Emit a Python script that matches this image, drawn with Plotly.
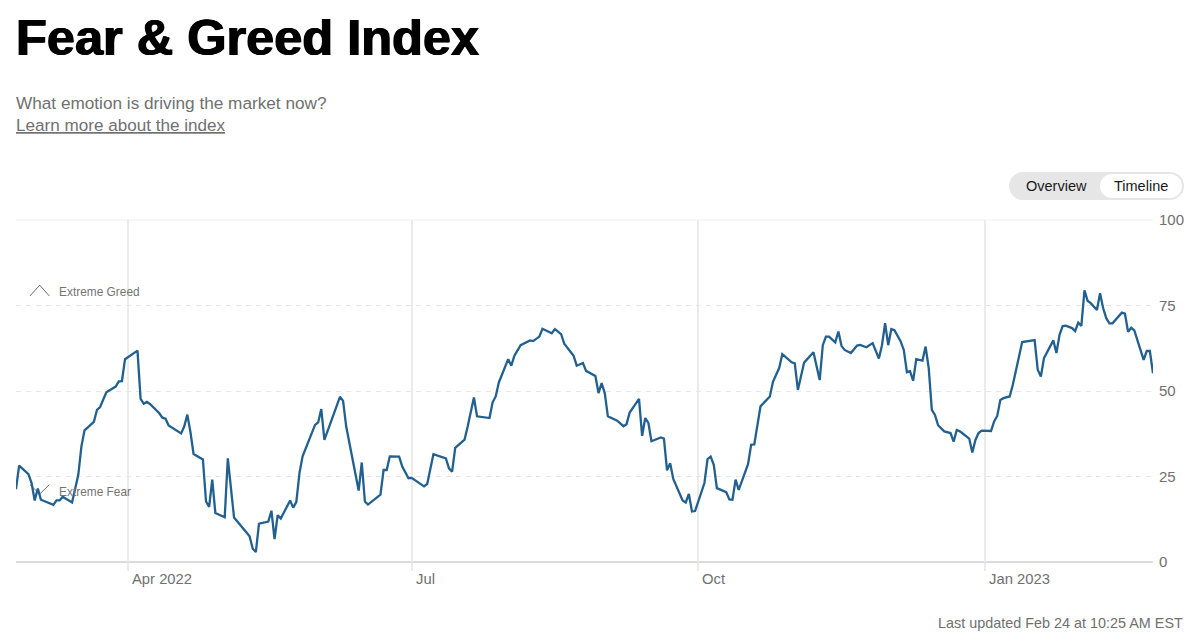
import pandas as pd
import plotly.graph_objects as go

# days since the first reading (2022-02-24)
day_offsets = [
    0, 1, 4, 5, 6, 7, 8, 12, 13, 14, 15, 18, 20, 21, 22, 25, 26, 27, 29, 32,
    33, 34, 35, 39, 40, 41, 42, 43, 46, 47, 48, 49, 53, 54, 55, 56, 57, 60, 61, 62,
    63, 64, 67, 68, 70, 75, 76, 77, 78, 81, 82, 83, 84, 85, 88, 89, 90, 91, 92, 96,
    97, 98, 99, 104, 105, 106, 110, 111, 112, 113, 117, 118, 119, 120, 123, 124, 126, 127, 131, 132,
    134, 138, 139, 140, 141, 144, 145, 147, 148, 152, 153, 154, 155, 158, 159, 160, 162, 165, 166, 168,
    169, 172, 173, 175, 176, 179, 180, 182, 183, 186, 187, 188, 189, 190, 193, 195, 196, 197, 200, 201,
    202, 203, 204, 207, 208, 209, 210, 211, 214, 215, 216, 217, 218, 221, 222, 223, 224, 225, 228, 229,
    230, 231, 232, 235, 236, 237, 239, 242, 243, 244, 245, 246, 249, 250, 251, 253, 256, 258, 259, 260,
    261, 263, 264, 265, 266, 268, 270, 271, 273, 275, 277, 278, 279, 280, 281, 282, 284, 285, 286, 287,
    288, 289, 291, 292, 293, 294, 295, 296, 298, 300, 301, 302, 303, 306, 307, 308, 309, 310, 313, 314,
    315, 316, 317, 319, 320, 323, 327, 328, 329, 330, 333, 334, 335, 336, 337, 339, 340, 341, 342, 343,
    344, 345, 347, 348, 349, 350, 351, 352, 355, 356, 357, 358, 359, 362, 363, 364, 365,
]
index_values = [
    21.3, 28.2, 25.7, 23.1, 18.0, 21.5, 18.2, 16.7, 18.0, 18.0, 19.1, 17.4, 25.5, 33.8, 38.5, 41.0, 44.5, 45.3, 49.6, 51.3,
    52.8, 52.9, 59.3, 61.8, 47.7, 46.3, 46.8, 46.2, 43.5, 42.2, 41.9, 39.9, 37.6, 39.6, 43.1, 38.0, 31.6, 30.0, 17.7, 16.1,
    24.1, 14.3, 13.1, 30.3, 13.0, 7.5, 3.9, 2.9, 11.2, 11.8, 15.0, 6.7, 13.7, 12.7, 18.0, 15.9, 17.6, 26.0, 30.9, 40.1,
    40.8, 44.7, 35.7, 48.3, 47.1, 39.6, 20.9, 29.1, 17.7, 16.8, 19.7, 26.9, 26.9, 30.9, 30.8, 27.9, 24.5, 24.6, 22.1, 22.8,
    31.5, 30.3, 27.4, 26.4, 33.4, 35.8, 39.6, 48.1, 42.6, 42.1, 46.7, 48.4, 52.5, 59.3, 57.4, 60.3, 63.4, 64.8, 64.6, 65.9,
    68.2, 66.9, 68.1, 66.6, 63.8, 60.3, 57.4, 58.2, 55.9, 54.4, 49.4, 52.3, 49.4, 42.6, 41.3, 39.7, 40.3, 43.7, 47.7, 36.9,
    42.1, 40.7, 35.3, 36.4, 36.1, 26.8, 28.9, 24.3, 18.0, 17.4, 19.9, 14.8, 14.9, 23.1, 30.1, 30.8, 28.4, 21.6, 20.4, 18.3,
    18.2, 24.1, 21.1, 28.6, 34.3, 34.4, 45.5, 48.4, 52.7, 54.9, 56.7, 60.8, 58.4, 58.1, 50.3, 58.3, 61.3, 53.2, 63.4, 65.9,
    65.9, 64.2, 67.4, 63.2, 62.0, 61.1, 63.3, 63.5, 62.8, 64.0, 59.5, 63.4, 69.8, 63.4, 68.1, 67.8, 64.5, 62.0, 55.5, 55.8,
    53.0, 59.3, 58.9, 63.0, 56.7, 44.5, 43.0, 40.0, 38.2, 37.7, 35.2, 38.6, 38.2, 36.1, 32.0, 35.7, 37.7, 38.4, 38.3, 41.1,
    42.7, 47.4, 47.9, 48.4, 51.8, 64.3, 64.9, 56.2, 54.2, 59.6, 64.8, 61.1, 66.4, 69.0, 69.1, 68.4, 67.5, 70.0, 69.0, 79.4,
    76.4, 75.7, 73.7, 78.6, 74.2, 71.3, 69.8, 69.8, 72.9, 72.6, 67.3, 68.5, 67.7, 59.1, 61.7, 61.7, 55.2,
]
dates = pd.Timestamp("2022-02-24") + pd.to_timedelta(day_offsets, unit="D")

month_ticks = ["2022-04-01", "2022-07-01", "2022-10-01", "2023-01-01"]
month_labels = ["Apr 2022", "Jul", "Oct", "Jan 2023"]
y_ticks = [0, 25, 50, 75, 100]

WIDTH, HEIGHT = 1200, 643
LEFT, RIGHT, TOP, BOTTOM = 16, 1153, 220, 562.5
GREY = "#707070"
GRID = "#ebebeb"
FONT = "Liberation Sans"


def px(x):
    return (x - LEFT) / (RIGHT - LEFT)


def py(y):
    return (BOTTOM - y) / (BOTTOM - TOP)


def pill(x0, x1, y0, y1):
    r = (y1 - y0) / 2
    k = r * 0.45
    return (
        f"M {px(x0 + r)} {py(y0)} L {px(x1 - r)} {py(y0)} "
        f"C {px(x1 - k)} {py(y0)} {px(x1)} {py(y0 + k)} {px(x1)} {py(y0 + r)} "
        f"C {px(x1)} {py(y1 - k)} {px(x1 - k)} {py(y1)} {px(x1 - r)} {py(y1)} "
        f"L {px(x0 + r)} {py(y1)} "
        f"C {px(x0 + k)} {py(y1)} {px(x0)} {py(y1 - k)} {px(x0)} {py(y0 + r)} "
        f"C {px(x0)} {py(y0 + k)} {px(x0 + k)} {py(y0)} {px(x0 + r)} {py(y0)} Z"
    )


def chevron(points):
    cmds = []
    for i, (x, y) in enumerate(points):
        cmds.append(("M" if i == 0 else "L") + f" {px(x)} {py(y)}")
    return " ".join(cmds)


def label(text, x, y, size, color=GREY, anchor="left", **font):
    fig.add_annotation(
        text=text, x=px(x), y=py(y), xref="paper", yref="paper",
        xanchor=anchor, yanchor="middle", showarrow=False,
        font=dict(family=FONT, size=size, color=color, **font),
    )


fig = go.Figure(go.Scatter(
    x=dates, y=index_values, mode="lines",
    line=dict(color="#22608f", width=2.3),
    hoverinfo="skip",
))

fig.update_layout(
    width=WIDTH, height=HEIGHT,
    margin=dict(l=LEFT, r=WIDTH - RIGHT, t=TOP, b=HEIGHT - BOTTOM, pad=0),
    paper_bgcolor="white", plot_bgcolor="white",
    showlegend=False,
)
fig.update_xaxes(
    range=["2022-02-24", "2023-02-24"],
    tickvals=month_ticks, showticklabels=False,
    showgrid=True, gridcolor=GRID, gridwidth=1.5,
    ticks="outside", ticklen=8, tickcolor=GRID, tickwidth=1.5,
    showline=False, zeroline=False,
)
fig.update_yaxes(
    range=[0, 100], side="right",
    tickvals=y_ticks,
    showgrid=True, gridcolor="#e6e6e6", griddash="5px,5px", gridwidth=1,
    ticks="outside", ticklen=2, tickcolor="rgba(0,0,0,0)",
    tickfont=dict(family=FONT, size=15, color=GREY),
    zeroline=False, showline=False,
)

# solid rules at the top and bottom of the scale
fig.add_shape(type="line", xref="paper", yref="paper", x0=0, x1=1, y0=1, y1=1,
              line=dict(color="#f0f0f0", width=1), layer="below")
fig.add_shape(type="line", xref="paper", yref="paper", x0=0, x1=1, y0=0, y1=0,
              line=dict(color="#dcdcdc", width=2), layer="below")

# toggle
fig.add_shape(type="path", xref="paper", yref="paper", path=pill(1009, 1184, 172, 200),
              fillcolor="#e6e6e6", line_width=0)
fig.add_shape(type="path", xref="paper", yref="paper", path=pill(1100, 1182, 174, 198),
              fillcolor="white", line_width=0)

# greed / fear markers
for pts in ([(30, 296), (39.7, 285.3), (49.3, 296)], [(30, 485), (39.7, 494.5), (49.3, 485)]):
    fig.add_shape(type="path", xref="paper", yref="paper", path=chevron(pts),
                  line=dict(color="#6b6b6b", width=1), layer="below")

label("Fear &amp; Greed Index", 14, 37, 50.5, color="#000000", weight="bold",
      shadow="0.7px 0 0 #000, -0.7px 0 0 #000")
label("What emotion is driving the market now?", 14, 103, 17.2)
label("Learn more about the index", 14, 125, 17.1, lineposition="under")
label("Overview", 1056, 186, 14.5, color="#1a1a1a", anchor="center")
label("Timeline", 1141, 186, 14.5, color="#1a1a1a", anchor="center")
label("Extreme Greed", 57, 292, 11.9, color="#757575")
label("Extreme Fear", 57, 492, 11.9, color="#757575")
label("Last updated Feb 24 at 10:25 AM EST", 1185, 624, 14.4, anchor="right")

for tick, text in zip(month_ticks, month_labels):
    fig.add_annotation(
        text=text, x=tick, y=py(580), xref="x", yref="paper",
        xanchor="left", yanchor="middle", xshift=2, showarrow=False,
        font=dict(family=FONT, size=14.8, color=GREY),
    )

fig.write_html("out.html", config=dict(displayModeBar=False),
               post_script="document.body.style.margin='0';")
